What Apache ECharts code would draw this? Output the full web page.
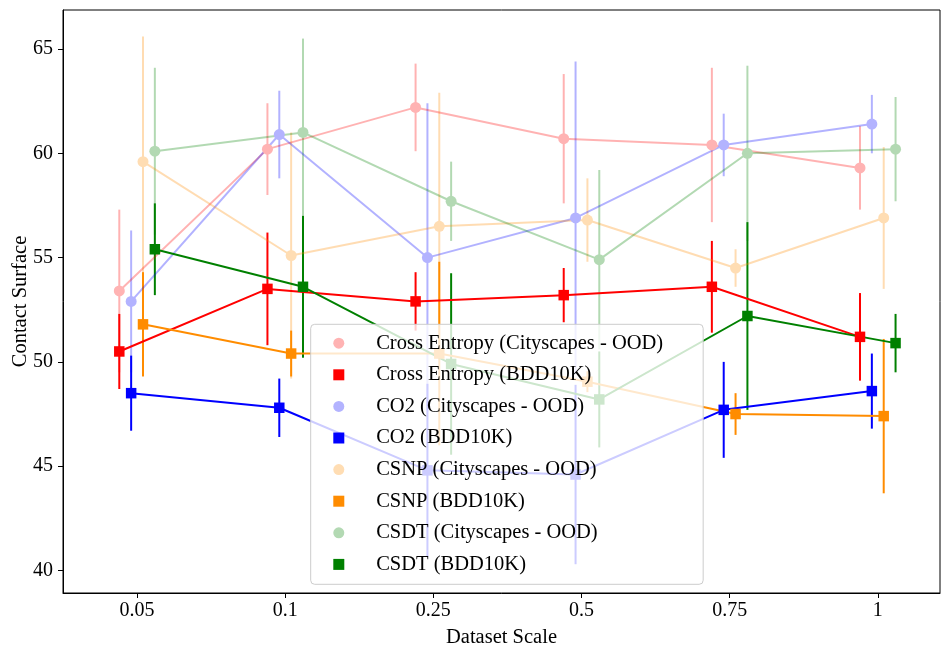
<!DOCTYPE html>
<html>
<head>
<meta charset="utf-8">
<script src="https://cdn.jsdelivr.net/npm/echarts@6/dist/echarts.min.js"></script>
<style>html,body{margin:0;padding:0;background:#fff;}#c{width:941px;height:647px;}</style>
</head>
<body>
<div id="c"></div>
<script>
const categories = ['0.05', '0.1', '0.25', '0.5', '0.75', '1'];
const yTicks = [40, 45, 50, 55, 60, 65];

const ceCity = [53.4, 60.2, 62.2, 60.7, 60.4, 59.3];
const ceCityErr = [3.9, 2.2, 2.1, 3.1, 3.7, 2.0];
const ceBdd = [50.5, 53.5, 52.9, 53.2, 53.6, 51.2];
const ceBddErr = [1.8, 2.7, 1.4, 1.3, 2.2, 2.1];
const co2City = [52.9, 60.9, 55.0, 56.9, 60.4, 61.4];
const co2CityErr = [3.4, 2.1, 7.4, 7.5, 1.5, 1.4];
const co2Bdd = [48.5, 47.8, 44.8, 44.6, 47.7, 48.6];
const co2BddErr = [1.8, 1.4, 4.15, 4.3, 2.3, 1.8];
const csnpCity = [59.6, 55.1, 56.5, 56.8, 54.5, 56.9];
const csnpCityErr = [6.0, 5.9, 6.4, 2.0, 0.9, 3.4];
const csnpBdd = [51.8, 50.4, 50.4, 49.05, 47.5, 47.4];
const csnpBddErr = [2.5, 1.1, 4.4, 0.5, 1.0, 3.7];
const csdtCity = [60.1, 61.0, 57.7, 54.9, 60.0, 60.2];
const csdtCityErr = [4.0, 4.5, 1.9, 4.3, 4.2, 2.5];
const csdtBdd = [55.4, 53.6, 49.9, 48.2, 52.2, 50.9];
const csdtBddErr = [2.2, 3.4, 4.35, 2.3, 4.5, 1.4];

const FONT = 'Liberation Serif';
const SQUARE = 'path://M0,0L10,0L10,10L0,10Z';

const defs = [
  {name: 'Cross Entropy (Cityscapes - OOD)', vals: ceCity, err: ceCityErr, off: -0.12, line: 'rgba(255,0,0,0.3)', solid: '#ffb3b3', sym: 'circle'},
  {name: 'Cross Entropy (BDD10K)', vals: ceBdd, err: ceBddErr, off: -0.12, line: '#ff0000', solid: '#ff0000', sym: 'square'},
  {name: 'CO2 (Cityscapes - OOD)', vals: co2City, err: co2CityErr, off: -0.04, line: 'rgba(0,0,255,0.3)', solid: '#b3b3ff', sym: 'circle'},
  {name: 'CO2 (BDD10K)', vals: co2Bdd, err: co2BddErr, off: -0.04, line: '#0000ff', solid: '#0000ff', sym: 'square'},
  {name: 'CSNP (Cityscapes - OOD)', vals: csnpCity, err: csnpCityErr, off: 0.04, line: 'rgba(255,140,0,0.3)', solid: '#ffddb3', sym: 'circle'},
  {name: 'CSNP (BDD10K)', vals: csnpBdd, err: csnpBddErr, off: 0.04, line: '#ff8c00', solid: '#ff8c00', sym: 'square'},
  {name: 'CSDT (Cityscapes - OOD)', vals: csdtCity, err: csdtCityErr, off: 0.12, line: 'rgba(0,128,0,0.3)', solid: '#b3d9b3', sym: 'circle'},
  {name: 'CSDT (BDD10K)', vals: csdtBdd, err: csdtBddErr, off: 0.12, line: '#008000', solid: '#008000', sym: 'square'}
];

const series = [];
defs.forEach(function (d) {
  const pts = d.vals.map(function (v, i) { return [i + d.off, v, d.err[i]]; });
  series.push({
    type: 'custom',
    name: d.name + ' err',
    data: pts,
    encode: {x: 0, y: 1},
    silent: true,
    renderItem: function (params, api) {
      const x = api.value(0), y = api.value(1), e = api.value(2);
      const p1 = api.coord([x, y - e]);
      const p2 = api.coord([x, y + e]);
      return {
        type: 'line',
        shape: {x1: p1[0], y1: p1[1], x2: p2[0], y2: p2[1]},
        style: {stroke: d.line, lineWidth: 2}
      };
    }
  });
  series.push({
    type: 'line',
    name: d.name,
    data: pts.map(function (p) { return [p[0], p[1]]; }),
    symbol: d.sym === 'circle' ? 'circle' : 'rect',
    symbolSize: d.sym === 'circle' ? 11 : 10.5,
    showSymbol: true,
    lineStyle: {color: d.line, width: 2},
    itemStyle: {color: d.solid},
    emphasis: {disabled: true},
    animation: false
  });
});

const chart = echarts.init(document.getElementById('c'), null, {renderer: 'canvas'});
chart.setOption({
  animation: false,
  backgroundColor: '#ffffff',
  grid: {left: 63, right: 1, top: 10, bottom: 54, show: true, borderColor: '#000', borderWidth: 1, backgroundColor: 'transparent', containLabel: false, outerBoundsMode: 'none'},
  xAxis: {
    type: 'value',
    min: -0.5,
    max: 5.42,
    name: 'Dataset Scale',
    nameLocation: 'middle',
    nameGap: 34,
    nameMoveOverlap: false,
    nameTextStyle: {fontFamily: FONT, fontSize: 20.5, color: '#000'},
    axisLine: {show: true, onZero: false, lineStyle: {color: '#000', width: 1}},
    axisTick: {show: true, length: 5, lineStyle: {color: '#000'}, customValues: categories.map(function (c, i) { return i; })},
    axisLabel: {
      fontFamily: FONT, fontSize: 20, color: '#000', margin: 8,
      customValues: categories.map(function (c, i) { return i; }),
      formatter: function (v) { return categories[Math.round(v)]; }
    },
    splitLine: {show: false}
  },
  yAxis: {
    type: 'value',
    min: 38.92,
    max: 66.87,
    name: 'Contact Surface',
    nameLocation: 'middle',
    nameGap: 32,
    nameMoveOverlap: false,
    nameTextStyle: {fontFamily: FONT, fontSize: 20.5, color: '#000'},
    axisLine: {show: true, onZero: false, lineStyle: {color: '#000', width: 1}},
    axisTick: {show: true, length: 5, lineStyle: {color: '#000'}, customValues: yTicks},
    axisLabel: {fontFamily: FONT, fontSize: 20, color: '#000', margin: 10, customValues: yTicks},
    splitLine: {show: false}
  },
  legend: {
    orient: 'vertical',
    left: 310.7,
    top: 324.3,
    padding: [8.4, 40, 9.4, 22.6],
    itemWidth: 30,
    itemHeight: 11,
    itemGap: 10.6,
    backgroundColor: 'rgba(255,255,255,0.8)',
    borderColor: '#cccccc',
    borderWidth: 1,
    borderRadius: 4,
    selectedMode: false,
    textStyle: {fontFamily: FONT, fontSize: 20.5, color: '#000', lineHeight: 20, padding: [0, 0, 0, 17.4]},
    data: defs.map(function (d) {
      return {name: d.name, icon: d.sym === 'circle' ? 'circle' : SQUARE, itemStyle: {color: d.solid, borderWidth: 0}};
    })
  },
  series: series
});
</script>
</body>
</html>
